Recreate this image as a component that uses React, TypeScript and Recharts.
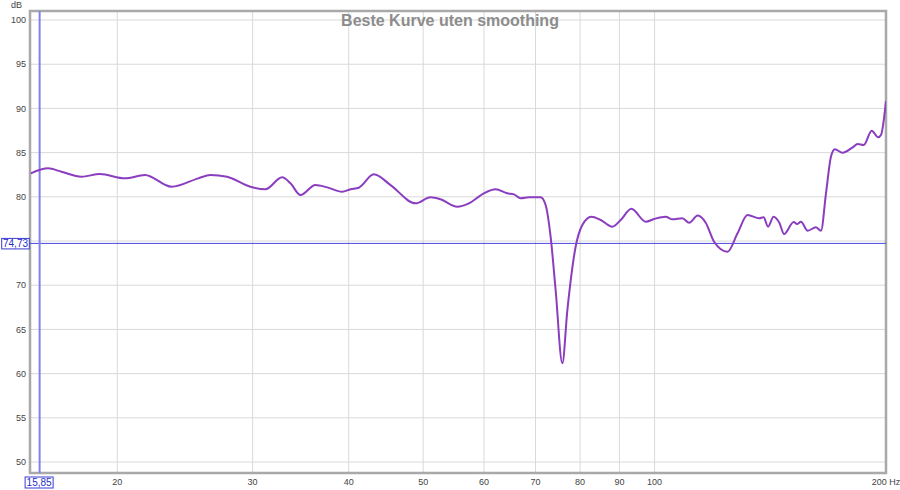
import {
  LineChart,
  Line,
  XAxis,
  YAxis,
  CartesianGrid,
  ReferenceLine,
  ReferenceArea
} from "recharts";

const freqs = [
  15.44, 16.26, 16.92, 17.97, 18.99, 20.47, 21.73, 23.54, 25.49, 26.43,
  27.79, 29.8, 31.17, 32.77, 33.6, 34.62, 36.21, 37.51, 39.23, 40.22,
  41.23, 43.13, 45.35, 48.87, 51.12, 52.67, 55.38, 57.34, 59.97, 62.11,
  64.33, 65.62, 66.95, 68.63, 71.08, 72.15, 73.24, 74.35, 75.86, 77.01,
  78.94, 80.54, 82.75, 85.09, 88.12, 90.34, 93.29, 97.39, 99.84, 103.4,
  105.5, 108.7, 110.9, 113.8, 116.6, 119.5, 124.4, 128.2, 132.1, 136.8,
  138.6, 140.5, 142.8, 145.3, 147.4, 151.7, 153.2, 155.0, 158.2, 162.1,
  164.6, 167.1, 169.6, 171.6, 175.6, 181.0, 183.7, 187.1, 191.6, 195.4,
  197.0, 200
];
const levels = [
  82.66, 83.22, 82.84, 82.27, 82.58, 82.09, 82.47, 81.14, 82.09, 82.47,
  82.27, 81.14, 80.85, 82.21, 81.53, 80.2, 81.33, 81.07, 80.58, 80.85,
  81.03, 82.55, 81.33, 79.26, 79.94, 79.72, 78.88, 79.26, 80.4, 80.85,
  80.4, 80.28, 79.83, 79.94, 79.94, 79.07, 75.49, 69.46, 61.17, 67.19,
  74.35, 76.81, 77.75, 77.38, 76.62, 77.38, 78.65, 77.18, 77.49, 77.75,
  77.45, 77.57, 77.07, 77.88, 77.04, 74.92, 73.79, 75.87, 77.94, 77.57,
  77.68, 76.62, 77.75, 77.07, 75.79, 77.15, 76.92, 77.18, 76.17, 76.55,
  76.17, 80.4, 84.54, 85.37, 84.99, 85.6, 85.97, 85.86, 87.48, 86.73,
  86.99, 90.84
];

const xTicks = [20, 30, 40, 50, 60, 70, 80, 90, 100, 200];
const yTicks = [50, 55, 60, 65, 70, 75, 80, 85, 90, 95, 100];
const xDomain = [15.4, 200];
const yDomain = [48.76, 101.02];
const cursorX = 15.85;
const cursorY = 74.73;
const title = "Beste Kurve uten smoothing";

const data = freqs.map((f, i) => ({ f, db: levels[i] }));

const fmt = (v: number) => String(v).replace(".", ",");
const FONT = "'Liberation Sans', Arial, sans-serif";

function XCursorLabel(props: any) {
  const { viewBox } = props;
  const cx = viewBox.x;
  const by = viewBox.y + viewBox.height;
  return (
    <g>
      <rect x={cx - 14.5} y={by + 4} width={28} height={11} fill="#fff" stroke="#3a3ad6" strokeWidth={1} />
      <text x={cx - 0.5} y={by + 13} textAnchor="middle" fontSize={10} fontFamily={FONT} fill="#2b2bc8">
        {fmt(cursorX)}
      </text>
    </g>
  );
}

function YCursorLabel(props: any) {
  const { viewBox } = props;
  const lx = viewBox.x;
  const cy = viewBox.y;
  return (
    <g>
      <rect x={lx - 28.3} y={cy - 5} width={27.6} height={10.5} fill="#fff" stroke="#3a3ad6" strokeWidth={1} />
      <text x={lx - 14.5} y={cy + 3.8} textAnchor="middle" fontSize={10} fontFamily={FONT} fill="#2b2bc8">
        {fmt(cursorY)}
      </text>
    </g>
  );
}

export default function App() {
  return (
    <div style={{ position: "absolute", left: 0, top: 0, width: 900, height: 490, background: "#fff" }}>
      <LineChart
        width={900}
        height={490}
        data={data}
        margin={{ top: 11, right: 14, bottom: 0, left: 0 }}
      >
        <CartesianGrid stroke="#d9d9d9" strokeWidth={1} />
        <XAxis
          dataKey="f"
          type="number"
          scale="log"
          domain={xDomain}
          ticks={xTicks}
          allowDataOverflow
          height={17}
          tickLine={false}
          axisLine={false}
          tickSize={0}
          tickMargin={6}
          interval={0}
          tick={{ fontSize: 9, fill: "#444", fontFamily: FONT }}
          tickFormatter={(v: number) => (v === 200 ? "200 Hz" : String(v))}
        />
        <YAxis
          type="number"
          domain={yDomain}
          ticks={yTicks}
          allowDataOverflow
          width={30}
          tickLine={false}
          axisLine={false}
          tickSize={0}
          tickMargin={4}
          interval={0}
          tick={{ fontSize: 9, fill: "#444", fontFamily: FONT }}
          // the 75 label sits under the cursor read-out box
          tickFormatter={(v: number) => (Math.abs(v - cursorY) < 2 ? "" : String(v))}
        />
        <ReferenceArea
          x1={xDomain[0]}
          x2={xDomain[1]}
          y1={yDomain[0]}
          y2={yDomain[1]}
          fill="none"
          stroke="#a9a9a9"
          strokeWidth={2.5}
        />
        <ReferenceLine
          y={cursorY}
          stroke="#4a4ae0"
          strokeWidth={1}
          label={<YCursorLabel />}
        />
        <ReferenceLine
          x={cursorX}
          stroke="#8080ee"
          strokeWidth={2}
          label={<XCursorLabel />}
        />
        <Line
          type="monotone"
          dataKey="db"
          stroke="#8a3dbf"
          strokeWidth={2}
          dot={false}
          isAnimationActive={false}
        />
      </LineChart>
      <div
        style={{
          position: "absolute",
          left: 0,
          width: 900,
          top: 11,
          textAlign: "center",
          fontFamily: FONT,
          fontWeight: "bold",
          fontSize: 16,
          color: "#8c8c8c",
          lineHeight: "20px"
        }}
      >
        {title}
      </div>
      <div
        style={{
          position: "absolute",
          left: 11,
          top: -1,
          fontFamily: FONT,
          fontSize: 9,
          color: "#444",
          lineHeight: "12px"
        }}
      >
        dB
      </div>
    </div>
  );
}
